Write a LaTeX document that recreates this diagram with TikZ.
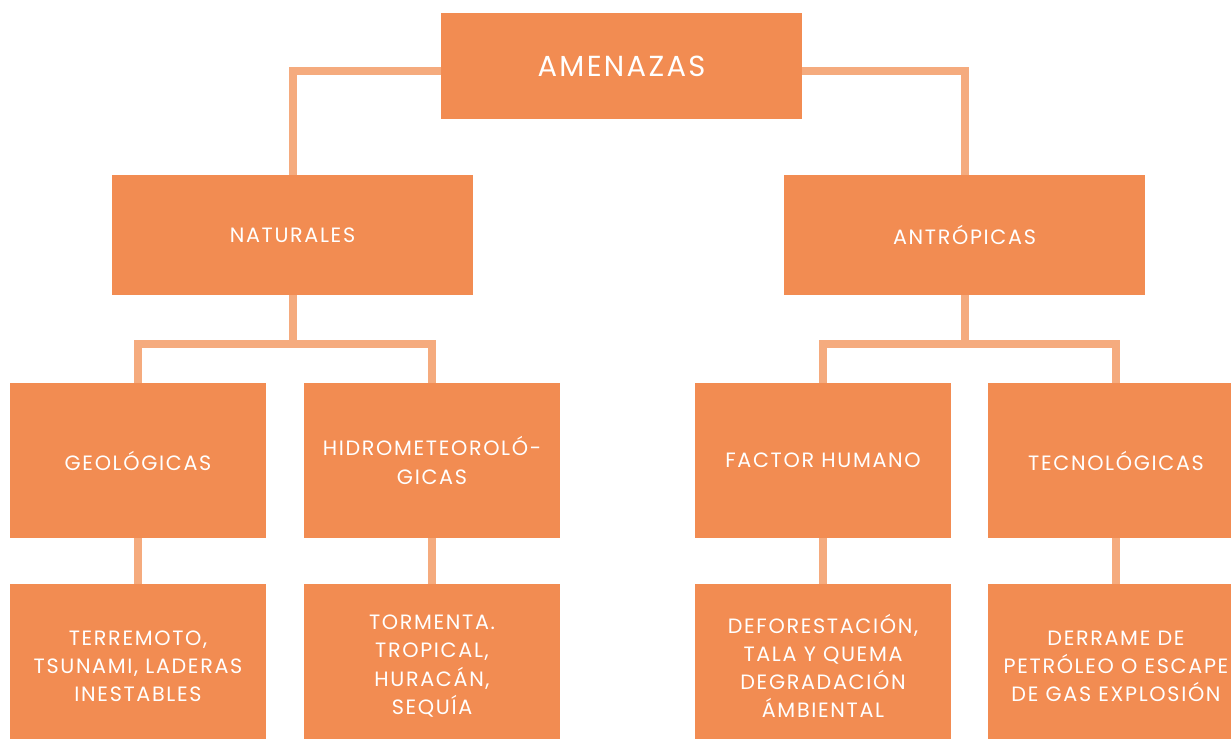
\documentclass[tikz,border=0pt]{standalone}
\usepackage{fontspec}
\setmainfont{Poppins}[LetterSpace=8.0]
\usetikzlibrary{backgrounds}
\definecolor{boxorange}{RGB}{242,140,82}
\definecolor{linkorange}{RGB}{245,171,126}
\begin{document}
\begin{tikzpicture}[x=0.02cm, y=-0.02cm,
  box/.style={fill=boxorange, text=white, align=center, inner sep=0pt,
    font=\fontsize{11.8}{16}\selectfont},
  top/.style={box, minimum width=7.22cm, minimum height=2.12cm, font=\fontsize{16.5}{20}\selectfont},
  mid/.style={box, minimum width=7.22cm, minimum height=2.4cm},
  leaf/.style={box, minimum width=5.12cm, minimum height=3.1cm},
  low/.style={box, minimum width=5.12cm, minimum height=3.28cm},
  link/.style={draw=linkorange, line width=0.16cm}]
\clip (0,0) rectangle (1231,738);
\useasboundingbox (0,0) rectangle (1231,738);
\node[top](A) at (621.5, 66) {AMENAZAS};
\node[mid](N) at (292.5, 235) {NATURALES};
\node[mid](T) at (964.5, 235) {ANTRÓPICAS};
\node[leaf](G) at (138, 460.5) {GEOLÓGICAS};
\node[leaf](H) at (432, 460.5) {HIDROMETEOROLÓ-\\GICAS};
\node[leaf](F) at (823, 460.5) {FACTOR HUMANO};
\node[leaf](K) at (1116, 460.5) {TECNOLÓGICAS};
\node[low](G1) at (138, 666) {TERREMOTO,\\TSUNAMI, LADERAS\\INESTABLES};
\node[low](H1) at (432, 666) {TORMENTA.\\TROPICAL,\\HURACÁN,\\SEQUÍA};
\node[low](F1) at (823, 666) {DEFORESTACIÓN,\\TALA Y QUEMA\\DEGRADACIÓN\\ÁMBIENTAL};
\node[low](K1) at (1116, 666) {DERRAME DE\\PETRÓLEO O ESCAPE\\DE GAS EXPLOSIÓN};
\begin{scope}[on background layer]
\draw[link] ([yshift=-0.1cm]A.center) -| (N.center);
\draw[link] ([yshift=-0.1cm]A.center) -| (T.center);
\draw[link] (N.center) -- (N |- 0,343.5);
\draw[link] (G.center) |- (N |- 0,343.5) -| (H.center);
\draw[link] (T.center) -- (T |- 0,343.5);
\draw[link] (F.center) |- (T |- 0,343.5) -| (K.center);
\draw[link] (G) -- (G1) (H) -- (H1) (F) -- (F1) (K) -- (K1);
\end{scope}
\end{tikzpicture}
\end{document}
